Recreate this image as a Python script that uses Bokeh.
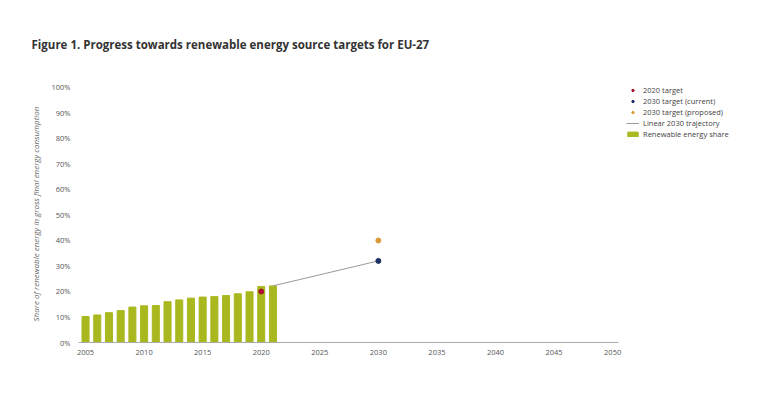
from bokeh.plotting import figure
from bokeh.models import FixedTicker, Legend, LegendItem, ColumnDataSource
from bokeh.embed import file_html
from bokeh.resources import INLINE

years = list(range(2005, 2022))
shares = [10.2, 10.8, 11.7, 12.5, 13.9, 14.4, 14.5, 16.0, 16.7, 17.4, 17.8, 18.0, 18.4, 19.1, 19.9, 22.0, 22.2]
target_2020_year = [2020]
target_2020_value = [20]
target_2030_year = [2030]
target_2030_current = [32]
target_2030_proposed = [40]
trajectory_years = [2021, 2030]
trajectory_values = [22.2, 32]
x_ticks = list(range(2005, 2051, 5))
y_ticks = list(range(0, 101, 10))
y_tick_labels = {v: f"{v}%" for v in y_ticks}

FONT = "Open Sans"

p = figure(frame_width=540, frame_height=257, output_backend="svg", toolbar_location=None,
           x_range=(2004.4, 2050.5), y_range=(0, 100.78),
           min_border_left=78, min_border_right=10, min_border_bottom=35, min_border_top=85)
p.outline_line_color = None
p.grid.visible = False
p.background_fill_color = "white"

p.title.text = "Figure 1. Progress towards renewable energy source targets for EU-27"
p.title.text_font = FONT
p.title.text_font_size = "11.5px"
p.title.text_font_style = "bold"
p.title.text_color = "#333333"
p.title.align = "left"
p.title.offset = -47
p.title.standoff = 67

src = ColumnDataSource(dict(x=years, top=shares))
bars = p.vbar(x="x", top="top", width=0.6, source=src, color="#a9b81f")
traj = p.line(trajectory_years, trajectory_values, line_color="#9a9a9a", line_width=1)
d2020 = p.scatter(target_2020_year, target_2020_value, size=5, color="#a8102c")
dcur = p.scatter(target_2030_year, target_2030_current, size=5, color="#1c3163")
dprop = p.scatter(target_2030_year, target_2030_proposed, size=5, color="#dd9a3a")

xa = p.xaxis[0]
xa.ticker = FixedTicker(ticks=x_ticks)
xa.axis_line_color = "#aaaaaa"
xa.major_tick_line_color = None
xa.minor_tick_line_color = None
xa.major_label_text_font = FONT
xa.major_label_text_font_size = "7.5px"
xa.major_label_text_color = "#555555"
xa.major_label_standoff = 1

ya = p.yaxis[0]
ya.ticker = FixedTicker(ticks=y_ticks)
ya.major_label_overrides = y_tick_labels
ya.axis_line_color = None
ya.major_tick_line_color = None
ya.minor_tick_line_color = None
ya.major_label_text_font = FONT
ya.major_label_text_font_size = "7.5px"
ya.major_label_text_color = "#555555"
ya.major_label_standoff = 2
ya.axis_label = "Share of renewable energy in gross final energy consumption"
ya.axis_label_text_font = FONT
ya.axis_label_text_font_size = "8px"
ya.axis_label_text_font_style = "italic"
ya.axis_label_text_color = "#666666"
ya.axis_label_standoff = 7

legend = Legend(items=[
    LegendItem(label="2020 target", renderers=[d2020]),
    LegendItem(label="2030 target (current)", renderers=[dcur]),
    LegendItem(label="2030 target (proposed)", renderers=[dprop]),
    LegendItem(label="Linear 2030 trajectory", renderers=[traj]),
    LegendItem(label="Renewable energy share", renderers=[bars]),
], location=(8, 203))
legend.background_fill_alpha = 0
legend.border_line_color = None
legend.label_text_font = FONT
legend.label_text_font_size = "7.5px"
legend.label_text_color = "#444444"
legend.glyph_width = 13
legend.glyph_height = 6
legend.label_height = 10
legend.spacing = 1
legend.padding = 0
legend.margin = 0
legend.label_standoff = 4
p.add_layout(legend, "right")

open("out.html", "w").write(file_html(p, INLINE))
